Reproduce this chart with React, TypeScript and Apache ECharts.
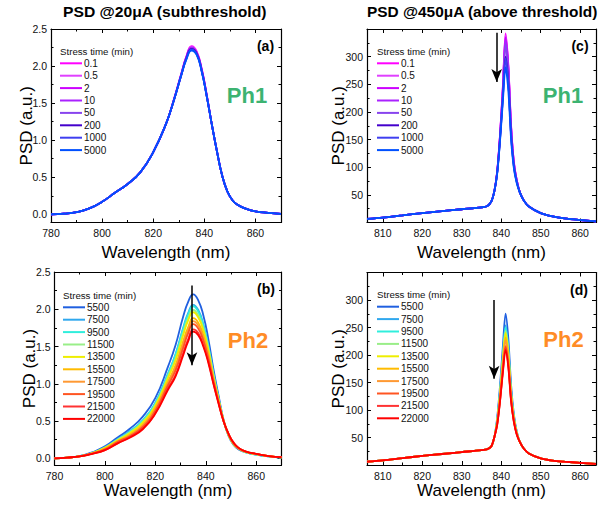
import React, { useEffect, useRef } from 'react';
import * as echarts from 'echarts';

// ---------- data ----------
const wavelengthSub = [780, 785, 790, 795, 800, 805, 810, 815, 820, 825, 828, 831, 833, 835, 837, 839, 841, 843, 845, 847, 849, 851, 853, 856, 860, 865, 870];
const wavelengthAbove = [806, 810, 815, 820, 825, 830, 835, 836.5, 837.5, 838.3, 839, 839.7, 840.4, 841.1, 841.8, 842.5, 843.2, 843.9, 844.7, 845.7, 847, 850, 853, 856, 860, 864];

const ph1Times = ['0.1', '0.5', '2', '10', '50', '200', '1000', '5000'];
const ph1Colors = ['#ff00ff', '#e040ff', '#cc00ff', '#aa22ff', '#8844ee', '#4400cc', '#3f3ff0', '#0050ff'];
const ph2Times = ['5500', '7500', '9500', '11500', '13500', '15500', '17500', '19500', '21500', '22000'];
const ph2Colors = ['#2060e0', '#30a8ee', '#30eedc', '#99ee88', '#eeee00', '#ffbb00', '#ff9933', '#ff5522', '#ff3333', '#ff0000'];

// PSD @20uA, phase 1
const ph1Sub = [
  [0.00, 0.01, 0.03, 0.08, 0.17, 0.29, 0.41, 0.57, 0.84, 1.22, 1.54, 1.90, 2.13, 2.27, 2.20, 1.96, 1.60, 1.20, 0.84, 0.52, 0.31, 0.19, 0.13, 0.08, 0.04, 0.02, 0.005],
  [0.00, 0.01, 0.03, 0.08, 0.17, 0.29, 0.41, 0.57, 0.84, 1.22, 1.54, 1.90, 2.13, 2.26, 2.19, 1.95, 1.60, 1.20, 0.84, 0.52, 0.31, 0.19, 0.13, 0.08, 0.04, 0.02, 0.005],
  [0.00, 0.01, 0.03, 0.08, 0.17, 0.29, 0.41, 0.57, 0.84, 1.22, 1.54, 1.89, 2.12, 2.25, 2.18, 1.95, 1.59, 1.20, 0.84, 0.52, 0.31, 0.19, 0.13, 0.08, 0.04, 0.02, 0.005],
  [0.00, 0.01, 0.03, 0.08, 0.17, 0.29, 0.41, 0.57, 0.84, 1.22, 1.53, 1.89, 2.12, 2.25, 2.18, 1.94, 1.59, 1.20, 0.84, 0.52, 0.31, 0.19, 0.13, 0.08, 0.04, 0.02, 0.005],
  [0.00, 0.01, 0.03, 0.08, 0.17, 0.29, 0.41, 0.57, 0.84, 1.22, 1.53, 1.89, 2.11, 2.24, 2.17, 1.94, 1.59, 1.20, 0.84, 0.52, 0.31, 0.19, 0.13, 0.08, 0.04, 0.02, 0.005],
  [0.00, 0.01, 0.03, 0.08, 0.17, 0.29, 0.41, 0.57, 0.84, 1.22, 1.53, 1.88, 2.11, 2.23, 2.17, 1.93, 1.58, 1.20, 0.84, 0.52, 0.31, 0.19, 0.13, 0.08, 0.04, 0.02, 0.005],
  [0.00, 0.01, 0.03, 0.08, 0.17, 0.29, 0.41, 0.57, 0.84, 1.22, 1.53, 1.88, 2.10, 2.22, 2.16, 1.93, 1.58, 1.20, 0.84, 0.52, 0.31, 0.19, 0.13, 0.08, 0.04, 0.02, 0.005],
  [0.00, 0.01, 0.03, 0.08, 0.17, 0.29, 0.41, 0.57, 0.84, 1.22, 1.53, 1.88, 2.09, 2.21, 2.15, 1.92, 1.58, 1.20, 0.84, 0.52, 0.31, 0.19, 0.13, 0.08, 0.04, 0.02, 0.005],
];

// PSD @20uA, phase 2
const ph2Sub = [
  [0.00, 0.01, 0.03, 0.08, 0.16, 0.28, 0.40, 0.56, 0.81, 1.23, 1.52, 1.90, 2.10, 2.20, 2.12, 1.92, 1.60, 1.20, 0.85, 0.52, 0.30, 0.18, 0.12, 0.08, 0.05, 0.025, 0.01],
  [0.00, 0.01, 0.03, 0.07, 0.15, 0.26, 0.37, 0.51, 0.75, 1.14, 1.40, 1.75, 1.95, 2.06, 1.99, 1.80, 1.51, 1.14, 0.82, 0.51, 0.31, 0.19, 0.13, 0.08, 0.05, 0.026, 0.011],
  [0.00, 0.01, 0.03, 0.07, 0.14, 0.25, 0.36, 0.51, 0.74, 1.13, 1.39, 1.73, 1.93, 2.04, 1.97, 1.79, 1.50, 1.14, 0.81, 0.51, 0.31, 0.19, 0.13, 0.08, 0.05, 0.027, 0.012],
  [0.00, 0.01, 0.028, 0.07, 0.14, 0.25, 0.35, 0.49, 0.72, 1.10, 1.34, 1.68, 1.88, 1.99, 1.92, 1.74, 1.47, 1.12, 0.80, 0.51, 0.31, 0.19, 0.13, 0.08, 0.054, 0.027, 0.012],
  [0.00, 0.01, 0.028, 0.07, 0.14, 0.24, 0.34, 0.48, 0.71, 1.08, 1.32, 1.65, 1.85, 1.96, 1.89, 1.72, 1.45, 1.10, 0.80, 0.51, 0.31, 0.19, 0.13, 0.085, 0.055, 0.028, 0.012],
  [0.00, 0.01, 0.027, 0.067, 0.13, 0.23, 0.32, 0.45, 0.68, 1.03, 1.25, 1.57, 1.76, 1.88, 1.82, 1.65, 1.40, 1.07, 0.78, 0.51, 0.32, 0.20, 0.13, 0.086, 0.056, 0.028, 0.013],
  [0.00, 0.01, 0.026, 0.066, 0.12, 0.22, 0.31, 0.44, 0.66, 1.01, 1.22, 1.53, 1.72, 1.84, 1.78, 1.62, 1.37, 1.06, 0.77, 0.51, 0.32, 0.20, 0.134, 0.087, 0.057, 0.029, 0.014],
  [0.00, 0.01, 0.026, 0.064, 0.12, 0.22, 0.30, 0.42, 0.64, 0.98, 1.18, 1.48, 1.68, 1.80, 1.74, 1.58, 1.34, 1.04, 0.76, 0.50, 0.32, 0.20, 0.136, 0.088, 0.058, 0.029, 0.014],
  [0.00, 0.01, 0.025, 0.061, 0.11, 0.20, 0.29, 0.40, 0.61, 0.94, 1.12, 1.41, 1.60, 1.73, 1.68, 1.52, 1.30, 1.01, 0.75, 0.50, 0.33, 0.21, 0.14, 0.09, 0.06, 0.03, 0.015],
  [0.00, 0.01, 0.025, 0.06, 0.11, 0.20, 0.28, 0.39, 0.60, 0.92, 1.10, 1.38, 1.57, 1.70, 1.65, 1.50, 1.28, 1.00, 0.74, 0.50, 0.33, 0.21, 0.14, 0.09, 0.06, 0.03, 0.015],
];

// PSD @450uA, phase 1
const ph1Above = [
  [6.5, 9, 13, 17, 20.5, 24, 27.5, 30, 38, 58, 95, 160, 245, 342, 285, 175, 110, 78, 55, 40, 29, 17, 11, 7.5, 4.5, 2],
  [6.5, 9, 13, 17, 20.5, 24, 27.5, 30, 38, 58, 94, 159, 243, 338, 282, 173, 109, 78, 55, 40, 29, 17, 11, 7.5, 4.5, 2],
  [6.5, 9, 13, 17, 20.5, 24, 27.5, 30, 38, 58, 94, 158, 241, 335, 280, 172, 108, 77, 55, 40, 29, 17, 11, 7.5, 4.5, 2],
  [6.5, 9, 13, 17, 20.5, 24, 27.5, 30, 38, 58, 93, 157, 238, 330, 276, 170, 107, 77, 55, 40, 29, 17, 11, 7.5, 4.5, 2],
  [6.5, 9, 13, 17, 20.5, 24, 27.5, 30, 38, 58, 93, 155, 234, 322, 270, 166, 105, 76, 55, 40, 29, 17, 11, 7.5, 4.5, 2],
  [6.5, 9, 13, 17, 20.5, 24, 27.5, 30, 38, 58, 92, 152, 226, 300, 253, 158, 102, 74, 55, 40, 29, 17, 11, 7.5, 4.5, 2],
  [6.5, 9, 13, 17, 20.5, 24, 27.5, 30, 38, 58, 91, 151, 225, 297, 251, 157, 101, 74, 55, 40, 29, 17, 11, 7.5, 4.5, 2],
  [6.5, 9, 13, 17, 20.5, 24, 27.5, 30, 38, 58, 90, 148, 218, 281, 238, 150, 98, 72, 54, 40, 29, 17, 11, 7.5, 4.5, 2],
];

// PSD @450uA, phase 2
const ph2Above = [
  [6, 8.5, 12.5, 16.5, 20, 23.5, 27, 29, 34, 52, 88, 145, 215, 275, 230, 145, 92, 62, 42, 30, 21, 12, 8, 6, 4, 2],
  [6, 8.5, 12.5, 16.5, 20, 23.5, 27, 29, 34, 52, 84, 137, 200, 254, 213, 136, 88, 61, 42, 30, 21, 12, 8, 6, 4, 2],
  [6, 8.5, 12.5, 16.5, 20, 23.5, 27, 29, 34, 52, 83, 135, 197, 250, 210, 134, 87, 60, 42, 30, 21, 12, 8, 6, 4, 2],
  [6, 8.5, 12.5, 16.5, 20, 23.5, 27, 29, 34, 52, 82, 132, 193, 244, 205, 131, 86, 60, 42, 30, 21, 12, 8, 6, 4, 2],
  [6, 8.5, 12.5, 16.5, 20, 23.5, 27, 29, 34, 52, 81, 130, 190, 240, 202, 129, 85, 59, 42, 30, 21, 12, 8, 6, 4, 2],
  [6, 8.5, 12.5, 16.5, 20, 23.5, 27, 29, 34, 52, 79, 126, 184, 232, 195, 126, 83, 58, 42, 30, 21, 12, 8, 6, 4, 2],
  [6, 8.5, 12.5, 16.5, 20, 23.5, 27, 29, 34, 52, 78, 123, 180, 226, 190, 123, 82, 58, 42, 30, 21, 12, 8, 6, 4, 2],
  [6, 8.5, 12.5, 16.5, 20, 23.5, 27, 29, 34, 52, 76, 119, 172, 216, 182, 118, 80, 57, 42, 30, 21, 12, 8, 6, 4, 2],
  [6, 8.5, 12.5, 16.5, 20, 23.5, 27, 29, 34, 52, 75, 117, 170, 213, 180, 117, 79, 57, 42, 30, 21, 12, 8, 6, 4, 2],
  [6, 8.5, 12.5, 16.5, 20, 23.5, 27, 29, 34, 52, 74, 116, 167, 209, 177, 115, 78, 56, 42, 30, 21, 12, 8, 6, 4, 2],
];

// arrows: [wavelength, PSD start, PSD end]
const arrowB = [834.5, 2.32, 1.25];
const arrowC = [838.85, 343, 254];
const arrowD = [838.2, 300, 157];

// ---------- layout ----------
const FONT = '"Liberation Sans", Arial, Helvetica, sans-serif';
const grids = [
  { left: 51, top: 29, width: 230, height: 193.5 },   // (a)
  { left: 367, top: 29, width: 229, height: 193.5 },  // (c)
  { left: 54.5, top: 272, width: 227, height: 193 },  // (b)
  { left: 367, top: 272.5, width: 229, height: 192.5 }, // (d)
];

const lineCommon = { color: '#000', width: 1.2 };
const tickCommon = { show: true, inside: true, length: 4, lineStyle: { color: '#000', width: 1 } };
const minorCommon = { show: true, splitNumber: 2, length: 2.5, lineStyle: { color: '#000', width: 1 } };

function xAxes(g: number, sub: boolean, nameGap: number) {
  const range = sub ? { min: 780, max: 870, interval: 20 } : { min: 806, max: 864, splitNumber: 5 };
  const fmt = (v: number) => (sub ? (v % 20 === 0 && v < 870 ? String(v) : '') : (v % 10 === 0 ? String(v) : ''));
  return [
    {
      type: 'value', gridIndex: g, position: 'bottom', ...range,
      axisLine: { show: true, onZero: false, lineStyle: lineCommon },
      axisTick: tickCommon, minorTick: minorCommon,
      splitLine: { show: false }, minorSplitLine: { show: false },
      axisLabel: { show: true, fontSize: 10.5, color: '#111', margin: 5, fontFamily: FONT, formatter: fmt },
      name: 'Wavelength (nm)', nameLocation: 'middle', nameGap, nameMoveOverlap: false,
      nameTextStyle: { fontSize: 17, color: '#000', fontFamily: FONT },
    },
    {
      type: 'value', gridIndex: g, position: 'top', ...range,
      axisLine: { show: true, onZero: false, lineStyle: lineCommon },
      axisTick: tickCommon, minorTick: minorCommon,
      splitLine: { show: false }, minorSplitLine: { show: false },
      axisLabel: { show: false },
    },
  ];
}

function yAxes(g: number, sub: boolean, yMin: number, nameGap: number) {
  const range = sub ? { min: yMin, max: 2.5, splitNumber: 5 } : { min: 0, max: 350, interval: 50 };
  const fmt = (v: number) => (sub ? (v < -0.001 ? '' : v.toFixed(1)) : (v === 0 || v === 350 ? '' : String(v)));
  return [
    {
      type: 'value', gridIndex: g, position: 'left', ...range,
      axisLine: { show: true, onZero: false, lineStyle: lineCommon },
      axisTick: tickCommon, minorTick: minorCommon,
      splitLine: { show: false }, minorSplitLine: { show: false },
      axisLabel: { show: true, fontSize: 10.5, color: '#111', margin: 4, fontFamily: FONT, formatter: fmt },
      name: 'PSD (a.u.)', nameLocation: 'middle', nameGap, nameMoveOverlap: false,
      nameTextStyle: { fontSize: 17, color: '#000', fontFamily: FONT },
    },
    {
      type: 'value', gridIndex: g, position: 'right', ...range,
      axisLine: { show: true, onZero: false, lineStyle: lineCommon },
      axisTick: tickCommon, minorTick: minorCommon,
      splitLine: { show: false }, minorSplitLine: { show: false },
      axisLabel: { show: false },
    },
  ];
}

function pairs(xs: number[], ys: number[]) {
  return xs.map((x, i) => [x, ys[i]]);
}

function arrowMark(a: number[]) {
  return {
    silent: true,
    symbol: ['none', 'arrow'],
    symbolSize: [8, 13],
    label: { show: false },
    lineStyle: { color: '#000', width: 1.5, type: 'solid' },
    emphasis: { disabled: true },
    data: [[{ coord: [a[0], a[1]] }, { coord: [a[0], a[2]] }]],
  };
}

function makeSeries(names: string[], colors: string[], xs: number[], values: number[][], axisIdx: number, arrow: number[] | null, smooth: number) {
  return names.map((n, i) => ({
    type: 'line',
    name: n,
    xAxisIndex: axisIdx,
    yAxisIndex: axisIdx,
    data: pairs(xs, values[i]),
    showSymbol: false,
    symbol: 'none',
    smooth,
    color: colors[i],
    lineStyle: { width: 1.8, color: colors[i] },
    emphasis: { disabled: true },
    markLine: arrow && i === names.length - 1 ? arrowMark(arrow) : undefined,
  }));
}

function legend(names: string[], left: number, top: number) {
  return {
    orient: 'vertical', left, top, padding: 0,
    data: names, icon: 'rect', itemWidth: 22, itemHeight: 2, itemGap: 0,
    selectedMode: false,
    textStyle: { fontSize: 10, color: '#111', fontFamily: FONT, lineHeight: 12.4, padding: [0, 0, 0, -3] },
  };
}

function measure(text: string, font: string) {
  const c = document.createElement('canvas').getContext('2d');
  if (!c) return 0;
  c.font = font;
  return c.measureText(text).width;
}

function txt(text: string, x: number, y: number, size: number, weight: string, fill: string, align = 'center', fitWidth = 0) {
  let scaleX = 1;
  if (fitWidth > 0) {
    const w = measure(text, `${weight} ${size}px "Liberation Sans", Arial, sans-serif`);
    if (w > 0) scaleX = Math.min(1.1, Math.max(0.7, fitWidth / w));
  }
  return {
    type: 'text', x, y, silent: true, scaleX,
    style: { text, fontSize: size, fontWeight: weight, fill, fontFamily: FONT, align, verticalAlign: 'middle' },
  };
}

export default function App() {
  const ref = useRef<HTMLDivElement>(null);
  useEffect(() => {
    if (!ref.current) return;
    const chart = echarts.init(ref.current, undefined, { renderer: 'svg' });
    const option: any = {
      animation: false,
      backgroundColor: '#fff',
      textStyle: { fontFamily: FONT },
      grid: grids.map((g) => ({ ...g, containLabel: false, outerBoundsMode: 'none' })),
      xAxis: [
        ...xAxes(0, true, 21),
        ...xAxes(1, false, 21),
        ...xAxes(2, true, 17),
        ...xAxes(3, false, 17),
      ],
      yAxis: [
        ...yAxes(0, true, -0.11, 16.5),
        ...yAxes(1, false, 0, 20.5),
        ...yAxes(2, true, -0.09, 17),
        ...yAxes(3, false, 0, 20.5),
      ],
      legend: [
        legend(ph1Times, 60, 57.1),
        legend(ph1Times, 377, 57.1),
        legend(ph2Times, 63, 301.1),
        legend(ph2Times, 377, 300.5),
      ],
      series: [
        ...makeSeries(ph1Times, ph1Colors, wavelengthSub, ph1Sub, 0, null, 0.5),
        ...makeSeries(ph1Times, ph1Colors, wavelengthAbove, ph1Above, 2, arrowC, 0.3),
        ...makeSeries(ph2Times, ph2Colors, wavelengthSub, ph2Sub, 4, arrowB, 0.5),
        ...makeSeries(ph2Times, ph2Colors, wavelengthAbove, ph2Above, 6, arrowD, 0.3),
      ],
      graphic: [
        txt('PSD @20μA (subthreshold)', 63, 11.5, 15, 'bold', '#000', 'left', 204),
        txt('PSD @450μA (above threshold)', 367, 11.5, 15, 'bold', '#000', 'left', 231),
        txt('(a)', 265.5, 45.5, 14, 'bold', '#000'),
        txt('(c)', 580, 45.5, 14, 'bold', '#000'),
        txt('(b)', 266, 289, 14, 'bold', '#000'),
        txt('(d)', 579, 289.5, 14, 'bold', '#000'),
        txt('Ph1', 247, 95, 22, 'bold', '#3cb371'),
        txt('Ph1', 563, 95, 22, 'bold', '#3cb371'),
        txt('Ph2', 248, 340, 22, 'bold', '#ff8c26'),
        txt('Ph2', 563.5, 339.5, 22, 'bold', '#ff8c26'),
        txt('Stress time (min)', 60, 51.5, 9.7, 'normal', '#111', 'left'),
        txt('Stress time (min)', 377, 51.5, 9.7, 'normal', '#111', 'left'),
        txt('Stress time (min)', 63, 295.5, 9.7, 'normal', '#111', 'left'),
        txt('Stress time (min)', 377, 294.8, 9.7, 'normal', '#111', 'left'),
      ],
    };
    chart.setOption(option);
    return () => chart.dispose();
  }, []);
  return (
    <div
      ref={ref}
      style={{ position: 'fixed', left: 0, top: 0, width: 615, height: 510, background: '#fff' }}
    />
  );
}
